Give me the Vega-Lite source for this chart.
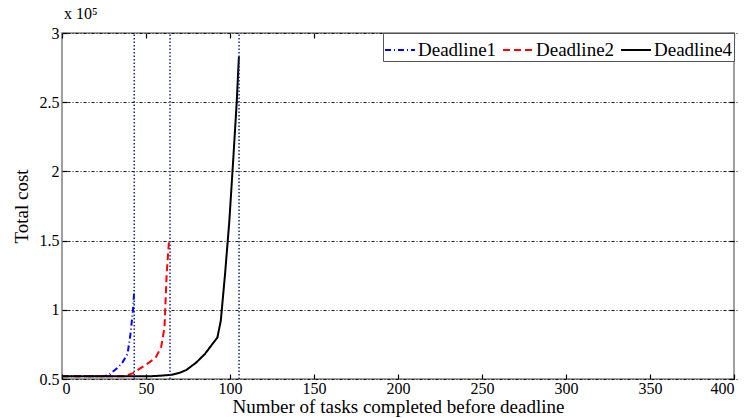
{
  "$schema": "https://vega.github.io/schema/vega-lite/v6.json",
  "width": 672,
  "height": 346,
  "autosize": {"type": "none"},
  "padding": {"left": 62, "top": 33, "right": 15, "bottom": 39},
  "background": "white",
  "title": {"text": "x 10⁵", "anchor": "start", "frame": "group", "font": "Liberation Serif", "fontSize": 16, "fontWeight": "normal", "color": "black", "offset": 3, "dx": 2},
  "config": {
    "view": {"stroke": "#808080", "strokeWidth": 1.5},
    "font": "Liberation Serif",
    "axis": {"labelFont": "Liberation Serif", "titleFont": "Liberation Serif", "labelColor": "black", "titleColor": "#000000", "tickColor": "black", "tickWidth": 1.2, "tickSize": 5, "offset": -5, "labelFontSize": 16, "titleFontSize": 19, "titleFontWeight": "normal", "domain": false}
  },
  "datasets": {
    "curves": [
      {"series": "Deadline1", "task": 0, "cost": 52000},
      {"series": "Deadline1", "task": 25, "cost": 52000},
      {"series": "Deadline1", "task": 28, "cost": 53000},
      {"series": "Deadline1", "task": 33, "cost": 58000},
      {"series": "Deadline1", "task": 36, "cost": 62000},
      {"series": "Deadline1", "task": 39, "cost": 68000},
      {"series": "Deadline1", "task": 40.7, "cost": 82000},
      {"series": "Deadline1", "task": 42.2, "cost": 99000},
      {"series": "Deadline1", "task": 43, "cost": 114000},
      {"series": "Deadline2", "task": 0, "cost": 52000},
      {"series": "Deadline2", "task": 37, "cost": 52000},
      {"series": "Deadline2", "task": 42, "cost": 54000},
      {"series": "Deadline2", "task": 47, "cost": 58000},
      {"series": "Deadline2", "task": 52, "cost": 62000},
      {"series": "Deadline2", "task": 56, "cost": 66000},
      {"series": "Deadline2", "task": 59, "cost": 73000},
      {"series": "Deadline2", "task": 61, "cost": 87000},
      {"series": "Deadline2", "task": 62.3, "cost": 126000},
      {"series": "Deadline2", "task": 63.7, "cost": 150000},
      {"series": "Deadline4", "task": 0, "cost": 52000},
      {"series": "Deadline4", "task": 53, "cost": 52000},
      {"series": "Deadline4", "task": 60, "cost": 52500},
      {"series": "Deadline4", "task": 65, "cost": 53000},
      {"series": "Deadline4", "task": 70, "cost": 54500},
      {"series": "Deadline4", "task": 74, "cost": 56500},
      {"series": "Deadline4", "task": 80, "cost": 62000},
      {"series": "Deadline4", "task": 85, "cost": 68000},
      {"series": "Deadline4", "task": 92.5, "cost": 80000},
      {"series": "Deadline4", "task": 94.5, "cost": 92000},
      {"series": "Deadline4", "task": 97, "cost": 125000},
      {"series": "Deadline4", "task": 99.6, "cost": 164000},
      {"series": "Deadline4", "task": 102, "cost": 210000},
      {"series": "Deadline4", "task": 104, "cost": 250000},
      {"series": "Deadline4", "task": 105.3, "cost": 283000}
    ],
    "deadlines": [
      {"deadline": 43},
      {"deadline": 64.3},
      {"deadline": 105.4}
    ]
  },
  "layer": [
    {
      "data": {"name": "curves"},
      "mark": {"type": "line", "strokeWidth": 2},
      "encoding": {
        "x": {
          "field": "task", "type": "quantitative",
          "scale": {"domain": [0, 400], "nice": false},
          "axis": {"orient": "bottom", "values": [0, 50, 100, 150, 200, 250, 300, 350, 400], "labelPadding": 1, "grid": false, "title": "Number of tasks completed before deadline", "titlePadding": 1}
        },
        "y": {
          "field": "cost", "type": "quantitative",
          "scale": {"domain": [50000, 300000], "nice": false, "zero": false},
          "axis": {"orient": "left", "values": [50000, 100000, 150000, 200000, 250000, 300000], "labelExpr": "datum.value / 100000", "labelPadding": 3, "grid": true, "gridColor": "black", "gridDash": [3, 2, 1, 2], "gridWidth": 1, "gridOpacity": 0.9, "title": "Total cost", "titlePadding": 8}
        },
        "color": {
          "field": "series", "type": "nominal",
          "scale": {"domain": ["Deadline1", "Deadline2", "Deadline4"], "range": ["#0000ff", "#ff0000", "#000000"]},
          "legend": {"title": null, "orient": "top-right", "direction": "horizontal", "offset": 0, "fillColor": "white", "strokeColor": "#555555", "padding": 1, "symbolType": "stroke", "symbolSize": 900, "symbolStrokeWidth": 2, "labelFont": "Liberation Serif", "labelFontSize": 19, "labelColor": "black", "columnPadding": 2, "labelOffset": 2, "cornerRadius": 0}
        },
        "strokeDash": {
          "field": "series", "type": "nominal",
          "scale": {"domain": ["Deadline1", "Deadline2", "Deadline4"], "range": [[6, 3, 1, 3], [7, 4], [1, 0]]},
          "legend": {"title": null, "orient": "top-right", "direction": "horizontal", "offset": 0, "fillColor": "white", "strokeColor": "#555555", "padding": 1, "symbolType": "stroke", "symbolSize": 900, "symbolStrokeWidth": 2, "labelFont": "Liberation Serif", "labelFontSize": 19, "labelColor": "black", "columnPadding": 2, "labelOffset": 2, "cornerRadius": 0}
        }
      }
    },
    {
      "data": {"name": "deadlines"},
      "mark": {"type": "rule", "color": "#1a2a80", "strokeDash": [1.5, 2], "strokeWidth": 1.5},
      "encoding": {
        "x": {
          "field": "deadline", "type": "quantitative",
          "axis": {"orient": "top", "values": [0, 50, 100, 150, 200, 250, 300, 350, 400], "labels": false, "grid": false, "title": null}
        },
        "y": {
          "datum": 50000, "type": "quantitative",
          "axis": {"orient": "right", "values": [50000, 100000, 150000, 200000, 250000, 300000], "labels": false, "grid": false, "title": null}
        },
        "y2": {"datum": 300000}
      }
    }
  ],
  "resolve": {"axis": {"x": "independent", "y": "independent"}}
}
